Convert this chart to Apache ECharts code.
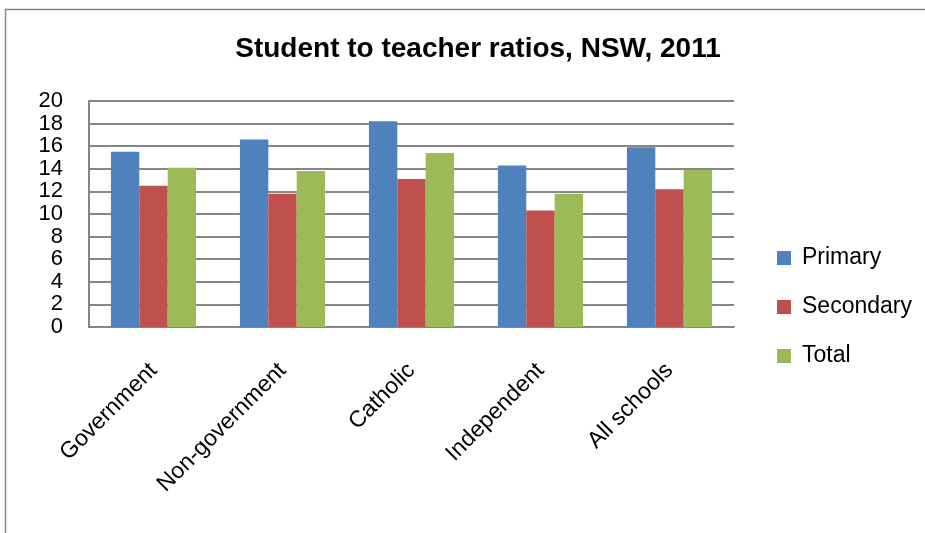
<!DOCTYPE html>
<html><head><meta charset="utf-8">
<script src="https://cdn.jsdelivr.net/npm/echarts@6/dist/echarts.min.js"></script>
<style>html,body{margin:0;padding:0;background:#fff}#c{width:925px;height:533px}</style>
</head><body><div id="c"></div>
<script>
const categories = ["Government", "Non-government", "Catholic", "Independent", "All schools"];
const primary = [15.5, 16.6, 18.2, 14.3, 15.9];
const secondary = [12.5, 11.8, 13.1, 10.3, 12.2];
const total = [14.1, 13.8, 15.4, 11.8, 13.9];
const seriesNames = ["Primary", "Secondary", "Total"];
const yTicks = { min: 0, max: 20, interval: 2 };

const FONT = "Liberation Sans";
const chart = echarts.init(document.getElementById('c'), null, { renderer: 'canvas' });
chart.setOption({
  animation: false,
  backgroundColor: '#fff',
  graphic: [{
    type: 'rect', shape: { x: 5.5, y: 9.5, width: 1000, height: 600 },
    style: { fill: 'none', stroke: '#888', lineWidth: 1.5 }, silent: true
  }],
  title: {
    text: 'Student to teacher ratios, NSW, 2011', left: 473, top: 30, textAlign: 'center',
    textStyle: { fontFamily: FONT, fontWeight: 'bold', fontSize: 28, color: '#000' }
  },
  legend: {
    orient: 'vertical', left: 777, top: 246, padding: 0, itemGap: 25, itemWidth: 14, itemHeight: 14,
    icon: 'rect', data: seriesNames,
    textStyle: { fontFamily: FONT, fontSize: 23, lineHeight: 24, color: '#000', padding: [0, 0, 0, 6] }
  },
  grid: { left: 89, right: 191, top: 101, bottom: 206 },
  xAxis: {
    type: 'category', data: categories,
    axisLine: { lineStyle: { color: '#868686', width: 2 } },
    axisTick: { show: false },
    axisLabel: { rotate: 45, fontFamily: FONT, fontSize: 23, color: '#000', margin: 40, interval: 0 }
  },
  yAxis: {
    type: 'value', min: yTicks.min, max: yTicks.max, interval: yTicks.interval,
    axisLine: { show: true, lineStyle: { color: '#868686', width: 2 } },
    axisTick: { show: false },
    splitLine: { lineStyle: { color: '#868686', width: 2 } },
    axisLabel: { fontFamily: FONT, fontSize: 22, color: '#000', margin: 26, hideOverlap: false }
  },
  series: [
    { name: seriesNames[0], type: 'bar', data: primary, itemStyle: { color: '#4F81BD' }, barGap: '0%', barCategoryGap: '34%' },
    { name: seriesNames[1], type: 'bar', data: secondary, itemStyle: { color: '#C0504D' }, barGap: '0%', barCategoryGap: '34%' },
    { name: seriesNames[2], type: 'bar', data: total, itemStyle: { color: '#9BBB59' }, barGap: '0%', barCategoryGap: '34%' }
  ]
});
</script></body></html>
